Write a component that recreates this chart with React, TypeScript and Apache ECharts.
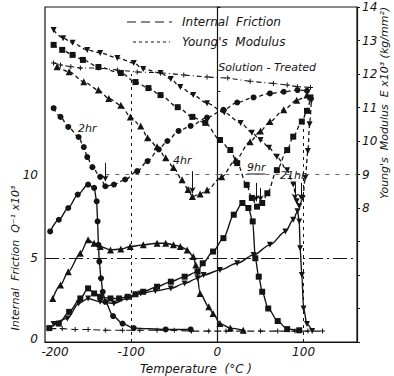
import React, { useEffect, useRef } from "react";
import * as echarts from "echarts";

// Temperature ticks (°C)
const xTicks = [-200, -100, 0, 100];
const leftTicks = [0, 5, 10];
const rightTicks = [8, 9, 10, 11, 12, 13, 14];

// Internal friction Q^-1 x10^3, [temperature, value]
const ifSolution: [number, number][] = [
  [-195, 0.8], [-180, 0.8], [-165, 0.75], [-150, 0.75], [-130, 0.7], [-110, 0.7], [-90, 0.7],
  [-70, 0.7], [-50, 0.7], [-30, 0.65], [-10, 0.65], [10, 0.65], [30, 0.65], [50, 0.65],
  [70, 0.65], [90, 0.65], [105, 0.65], [122, 0.65],
];
const if2hr: [number, number][] = [
  [-194, 6.6], [-184, 7.3], [-173, 8.0], [-162, 8.8], [-150, 9.4], [-143, 9.2], [-140, 8.4],
  [-139, 7.2], [-138, 5.8], [-137, 4.8], [-135, 3.8], [-133, 3.0], [-130, 2.4], [-121, 1.55],
  [-110, 1.1], [-97, 0.83], [-60, 0.75], [-31, 0.75],
];
const if4hr: [number, number][] = [
  [-191, 2.6], [-182, 3.4], [-173, 4.2], [-159, 5.3], [-150, 6.1], [-143, 5.9], [-136, 5.7],
  [-124, 5.5], [-112, 5.55], [-101, 5.7], [-86, 5.8], [-70, 5.9], [-60, 5.9], [-51, 5.8],
  [-43, 5.7], [-35, 5.5], [-28, 5.1], [-25, 4.6], [-20, 2.9], [-10, 2.1], [-5, 1.7],
  [3, 1.1], [15, 0.83], [30, 0.7],
];
const if9hr: [number, number][] = [
  [-195, 0.83], [-184, 1.1], [-172, 1.8], [-159, 2.6], [-150, 3.2], [-143, 2.9], [-136, 2.7],
  [-124, 2.6], [-114, 2.6], [-104, 2.7], [-95, 2.85], [-86, 3.0], [-70, 3.3], [-54, 3.6],
  [-38, 3.9], [-23, 4.2], [-17, 4.7], [-5, 5.4], [7, 6.2], [19, 7.6], [29, 8.3], [36, 8.0],
  [41, 7.2], [44, 5.0], [48, 3.9], [52, 3.0], [59, 2.0], [70, 1.25], [81, 0.77], [95, 0.7],
];
const if21hr: [number, number][] = [
  [-190, 1.07], [-174, 1.4], [-161, 2.3], [-150, 2.6], [-136, 2.4], [-120, 2.3], [-105, 2.6],
  [-89, 2.9], [-72, 3.05], [-54, 3.2], [-38, 3.5], [-23, 3.8], [-16, 4.0], [3, 4.3], [23, 4.7],
  [42, 5.2], [61, 5.8], [79, 6.6], [88, 7.3], [93, 7.8], [95, 7.2], [96, 5.6], [98, 4.0],
  [100, 2.0], [104, 1.07], [110, 0.65],
];

// Young's modulus E x10^3 kg/mm^2, [temperature, value]
const ymSolution: [number, number][] = [
  [-190, 12.33], [-182, 12.27], [-170, 12.22], [-159, 12.18], [-138, 12.18], [-116, 12.12],
  [-93, 12.06], [-66, 12.04], [-39, 11.97], [-12, 11.91], [12, 11.88], [38, 11.78],
  [65, 11.72], [81, 11.67], [93, 11.62], [108, 11.6],
];
const ym2hr: [number, number][] = [
  [-190, 10.98], [-182, 10.72], [-173, 10.42], [-161, 10.12], [-155, 9.82], [-151, 9.52],
  [-145, 9.22], [-136, 8.93], [-130, 8.65], [-120, 8.7], [-107, 8.85], [-93, 9.1], [-81, 9.4],
  [-68, 9.75], [-58, 10.0], [-45, 10.3], [-31, 10.45], [-12, 10.7], [7, 10.93], [23, 11.15],
  [42, 11.3], [61, 11.42], [77, 11.47], [93, 11.52], [104, 11.5],
];
const ym4hr: [number, number][] = [
  [-186, 12.22], [-172, 12.07], [-155, 11.77], [-138, 11.52], [-126, 11.27], [-112, 11.07],
  [-101, 10.72], [-89, 10.45], [-81, 10.1], [-70, 9.83], [-60, 9.5], [-51, 9.21], [-41, 8.84],
  [-34, 8.55], [-29, 8.34], [-20, 8.42], [-12, 8.54], [5, 8.93], [21, 9.43], [38, 9.98],
  [50, 10.3], [61, 10.58], [77, 10.93], [92, 11.22], [104, 11.37],
];
const ym9hr: [number, number][] = [
  [-190, 12.87], [-180, 12.72], [-168, 12.57], [-156, 12.42], [-138, 12.21], [-112, 12.03],
  [-95, 11.76], [-80, 11.58], [-66, 11.37], [-46, 11.01], [-29, 10.72], [-14, 10.54],
  [3, 10.03], [15, 9.73], [23, 9.34], [34, 8.69], [40, 8.3], [46, 8.04], [52, 8.15],
  [58, 8.44], [69, 9.13], [81, 9.73], [88, 10.13], [98, 10.58], [104, 10.9], [108, 11.3],
];
const ym21hr: [number, number][] = [
  [-190, 13.31], [-179, 13.07], [-168, 12.93], [-151, 12.72], [-136, 12.63], [-116, 12.48],
  [-97, 12.33], [-86, 12.15], [-66, 12.03], [-54, 11.85], [-43, 11.61], [-28, 11.37],
  [-12, 11.13], [8, 10.85], [27, 10.54], [40, 10.25], [50, 10.03], [60, 9.8], [69, 9.53],
  [81, 9.13], [88, 8.7], [92, 8.2], [95, 8.05], [99, 8.3], [102, 8.9], [105, 9.7],
  [107, 10.5], [109, 11.2],
];

// Arrows marking the modulus minima: [temperature, from E, to E]
const arrows2hr: [number, number, number][] = [[-130, 9.35, 8.8]];
const arrows4hr: [number, number, number][] = [[-29, 9.1, 8.45]];
const arrows9hr: [number, number, number][] = [[45, 8.75, 8.2], [50, 8.6, 8.2]];
const arrows21hr: [number, number, number][] = [[90, 8.75, 8.25], [97, 8.75, 8.25]];

const INK = "#141414";
const FONT = "DejaVu Sans";

const invTriangle = "path://M0,0L10,0L5,10Z";
const crossMark = "path://M4,0H6V4H10V6H6V10H4V6H0V4H4Z";

function arrowLines(list: [number, number, number][]) {
  return {
    silent: true,
    symbol: ["none", "arrow"],
    symbolSize: [5, 6],
    label: { show: false },
    lineStyle: { color: INK, type: "solid", width: 1 },
    data: list.map(([t, a, b]) => [{ coord: [t, a] }, { coord: [t, b] }]),
  };
}

function ifSeries(name: string, data: [number, number][], symbol: string, size: number) {
  return {
    name,
    type: "line",
    yAxisIndex: 0,
    data,
    smooth: 0.3,
    smoothMonotone: "x",
    symbol,
    symbolSize: size,
    showSymbol: true,
    itemStyle: { color: INK },
    lineStyle: { color: INK, width: 1.4 },
  };
}

function ymSeries(name: string, data: [number, number][], symbol: string, size: number, arrows?: [number, number, number][]) {
  const s: any = {
    name,
    type: "line",
    yAxisIndex: 1,
    data,
    smooth: 0.3,
    smoothMonotone: "x",
    symbol,
    symbolSize: size,
    itemStyle: { color: INK },
    lineStyle: { color: INK, width: 1.3, type: [4, 3] },
  };
  if (arrows) s.markLine = arrowLines(arrows);
  return s;
}

export default function App() {
  const ref = useRef<HTMLDivElement>(null);

  useEffect(() => {
    if (!ref.current) return;
    const chart = echarts.init(ref.current, null, { renderer: "svg" });
    const italic = { fontStyle: "italic" as const, fontFamily: FONT, color: INK };

    chart.setOption({
      animation: false,
      backgroundColor: "#ffffff",
      grid: { left: 45, right: 37, top: 7, bottom: 34, show: true, borderColor: INK, borderWidth: 1.2 },
      xAxis: {
        type: "value",
        min: -200,
        max: 162,
        interval: 100,
        axisLine: { lineStyle: { color: INK, width: 1.2 } },
        axisTick: { show: false },
        splitLine: { show: false },
        axisLabel: {
          ...italic,
          fontSize: 12,
          margin: 4,
          showMaxLabel: false,
          formatter: (v: number) =>
            v === -200 ? "{m|-200}" : xTicks.includes(v) ? String(v) : "",
          rich: { m: { ...italic, fontSize: 12, padding: [0, 0, 0, 20] } },
        },
      },
      yAxis: [
        {
          type: "value",
          min: 0,
          max: 20,
          interval: 5,
          position: "left",
          axisLine: { show: true, lineStyle: { color: INK, width: 1.2 } },
          axisTick: { show: true, inside: true, length: 3, lineStyle: { color: INK } },
          splitLine: { show: false },
          axisLabel: {
            ...italic,
            fontSize: 12,
            margin: 7,
            formatter: (v: number) => (v === 0 ? "{z|0}" : leftTicks.includes(v) ? String(v) : ""),
            rich: { z: { ...italic, fontSize: 12, padding: [0, 0, 6, 0] } },
          },
        },
        {
          type: "value",
          min: 4,
          max: 14,
          interval: 1,
          position: "right",
          axisLine: { show: true, lineStyle: { color: INK, width: 1.2 } },
          axisTick: { show: true, length: 3, lineStyle: { color: INK } },
          splitLine: { show: false },
          axisLabel: {
            ...italic,
            fontSize: 12,
            margin: 5,
            formatter: (v: number) => (rightTicks.includes(v) ? String(v) : ""),
          },
        },
      ],
      series: [
        {
          ...ifSeries("Solution-Treated IF", ifSolution, crossMark, 5),
          smooth: false,
          lineStyle: { color: INK, width: 1.1, type: [7, 4] },
          markLine: {
            silent: true,
            symbol: ["none", "none"],
            label: { show: false },
            lineStyle: { color: INK, width: 1 },
            data: [
              [{ coord: [-200, 5], lineStyle: { type: [14, 4, 2, 4] } }, { coord: [162, 5] }],
              [{ coord: [-130, 10], lineStyle: { type: [4, 6], color: "#666" } }, { coord: [162, 10] }],
              [{ coord: [-100, 0], lineStyle: { type: [3, 4] } }, { coord: [-100, 16] }],
              [{ coord: [0, 0], lineStyle: { type: [3, 4] } }, { coord: [0, 8] }],
              [{ coord: [100, 0], lineStyle: { type: [3, 4] } }, { coord: [100, 13] }],
            ],
          },
        },
        ifSeries("2hr IF", if2hr, "circle", 6),
        ifSeries("4hr IF", if4hr, "triangle", 7),
        ifSeries("9hr IF", if9hr, "rect", 6),
        ifSeries("21hr IF", if21hr, invTriangle, 6),
        {
          ...ymSeries("Solution-Treated E", ymSolution, crossMark, 5),
          smooth: false,
          lineStyle: { color: INK, width: 1.1, type: [5, 3, 1, 3] },
        },
        ymSeries("2hr E", ym2hr, "circle", 6, arrows2hr),
        ymSeries("4hr E", ym4hr, "triangle", 7, arrows4hr),
        ymSeries("9hr E", ym9hr, "rect", 6, arrows9hr),
        ymSeries("21hr E", ym21hr, invTriangle, 6, arrows21hr),
      ],
      graphic: [
        // legend
        { type: "line", shape: { x1: 127, y1: 22, x2: 172, y2: 22 }, style: { stroke: INK, lineWidth: 1.1, lineDash: [9, 5] } },
        { type: "text", x: 182, y: 22, style: { text: "Internal  Friction", font: `italic 12px ${FONT}`, fill: INK, textVerticalAlign: "middle" } },
        { type: "line", shape: { x1: 133, y1: 42, x2: 170, y2: 42 }, style: { stroke: INK, lineWidth: 1.1, lineDash: [3, 3] } },
        { type: "text", x: 182, y: 42, style: { text: "Young's  Modulus", font: `italic 12px ${FONT}`, fill: INK, textVerticalAlign: "middle" } },
        // curve labels
        { type: "text", x: 316, y: 67, style: { text: "Solution - Treated", font: `italic 11px ${FONT}`, fill: INK, textAlign: "right", textVerticalAlign: "middle" } },
        { type: "text", x: 78, y: 128, style: { text: "2hr", font: `italic 11px ${FONT}`, fill: INK, textVerticalAlign: "middle" } },
        { type: "text", x: 173, y: 160, style: { text: "4hr", font: `italic 11px ${FONT}`, fill: INK, textVerticalAlign: "middle" } },
        { type: "text", x: 247, y: 167, style: { text: "9hr", font: `italic 11px ${FONT}`, fill: INK, textVerticalAlign: "middle" } },
        { type: "line", shape: { x1: 247, y1: 174, x2: 265, y2: 174 }, style: { stroke: INK, lineWidth: 1 } },
        { type: "text", x: 280, y: 175, style: { text: "21hr", font: `italic 11px ${FONT}`, fill: INK, textVerticalAlign: "middle" } },
        // axis titles
        { type: "text", x: 15, y: 258, rotation: Math.PI / 2, style: { text: "Internal  Friction  Q⁻¹ x10³", font: `italic 11px ${FONT}`, fill: INK, textAlign: "center", textVerticalAlign: "middle" } },
        { type: "text", x: 384, y: 103, rotation: Math.PI / 2, style: { text: "Young's  Modulus  E x10³ (kg/mm²)", font: `italic 11px ${FONT}`, fill: INK, textAlign: "center", textVerticalAlign: "middle" } },
        { type: "text", x: 196, y: 369, style: { text: "Temperature  (°C )", font: `italic 12px ${FONT}`, fill: INK, textAlign: "center", textVerticalAlign: "middle" } },
      ],
    });

    return () => chart.dispose();
  }, []);

  return <div ref={ref} style={{ position: "fixed", left: 0, top: 0, width: 394, height: 376 }} />;
}
